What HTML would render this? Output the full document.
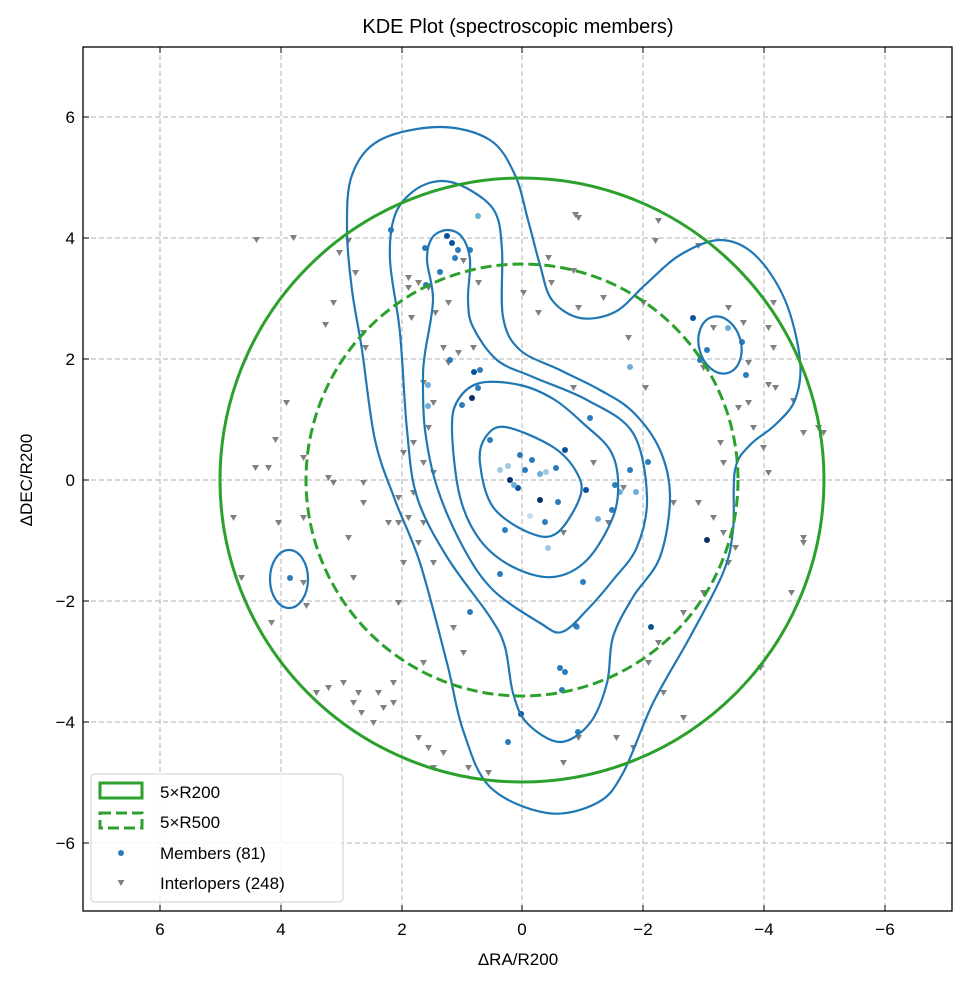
<!DOCTYPE html>
<html><head><meta charset="utf-8"><style>
html,body{margin:0;padding:0;background:#fff;}
svg{display:block;font-family:"Liberation Sans","DejaVu Sans",sans-serif;}
</style></head><body>
<svg id="s" width="969" height="984" viewBox="0 0 969 984" xmlns="http://www.w3.org/2000/svg">
<rect width="969" height="984" fill="#fff"/>
<text x="518" y="33" font-size="20" text-anchor="middle" fill="#000">KDE Plot (spectroscopic members)</text>
<g stroke="#b0b0b0" stroke-width="1" stroke-dasharray="5,3">
<line x1="160" y1="47" x2="160" y2="911"/><line x1="281" y1="47" x2="281" y2="911"/><line x1="402" y1="47" x2="402" y2="911"/><line x1="522" y1="47" x2="522" y2="911"/><line x1="643" y1="47" x2="643" y2="911"/><line x1="764" y1="47" x2="764" y2="911"/><line x1="885" y1="47" x2="885" y2="911"/>
<line x1="83" y1="117" x2="952" y2="117"/><line x1="83" y1="238" x2="952" y2="238"/><line x1="83" y1="359" x2="952" y2="359"/><line x1="83" y1="480" x2="952" y2="480"/><line x1="83" y1="601" x2="952" y2="601"/><line x1="83" y1="722" x2="952" y2="722"/><line x1="83" y1="843" x2="952" y2="843"/>
</g>
<path fill="#808080" d="M253,237h7l-3.5,6z M290,235h7l-3.5,6z M336,250h7l-3.5,6z M352,270h7l-3.5,6z M345,238h7l-3.5,6z M330,300h7l-3.5,6z M322,322h7l-3.5,6z M360,330h7l-3.5,6z M362,345h7l-3.5,6z M405,275h7l-3.5,6z M415,280h7l-3.5,6z M425,285h7l-3.5,6z M432,310h7l-3.5,6z M408,315h7l-3.5,6z M440,345h7l-3.5,6z M445,360h7l-3.5,6z M455,350h7l-3.5,6z M420,380h7l-3.5,6z M430,400h7l-3.5,6z M425,425h7l-3.5,6z M400,450h7l-3.5,6z M420,460h7l-3.5,6z M430,470h7l-3.5,6z M410,490h7l-3.5,6z M395,495h7l-3.5,6z M405,515h7l-3.5,6z M420,520h7l-3.5,6z M415,540h7l-3.5,6z M400,560h7l-3.5,6z M430,560h7l-3.5,6z M385,520h7l-3.5,6z M360,500h7l-3.5,6z M345,535h7l-3.5,6z M350,575h7l-3.5,6z M330,480h7l-3.5,6z M300,455h7l-3.5,6z M272,437h7l-3.5,6z M252,465h7l-3.5,6z M265,465h7l-3.5,6z M275,520h7l-3.5,6z M300,515h7l-3.5,6z M300,580h7l-3.5,6z M325,475h7l-3.5,6z M360,480h7l-3.5,6z M238,575h7l-3.5,6z M268,620h7l-3.5,6z M303,603h7l-3.5,6z M325,685h7l-3.5,6z M340,680h7l-3.5,6z M355,690h7l-3.5,6z M358,710h7l-3.5,6z M375,690h7l-3.5,6z M390,680h7l-3.5,6z M370,720h7l-3.5,6z M390,700h7l-3.5,6z M415,735h7l-3.5,6z M425,745h7l-3.5,6z M440,750h7l-3.5,6z M430,765h7l-3.5,6z M465,765h7l-3.5,6z M485,770h7l-3.5,6z M420,660h7l-3.5,6z M283,400h7l-3.5,6z M230,515h7l-3.5,6z M545,255h7l-3.5,6z M548,280h7l-3.5,6z M570,268h7l-3.5,6z M575,305h7l-3.5,6z M600,295h7l-3.5,6z M570,385h7l-3.5,6z M535,310h7l-3.5,6z M520,290h7l-3.5,6z M475,280h7l-3.5,6z M575,215h7l-3.5,6z M655,218h7l-3.5,6z M695,243h7l-3.5,6z M710,325h7l-3.5,6z M725,305h7l-3.5,6z M740,320h7l-3.5,6z M765,325h7l-3.5,6z M770,345h7l-3.5,6z M745,360h7l-3.5,6z M765,382h7l-3.5,6z M772,385h7l-3.5,6z M790,398h7l-3.5,6z M745,400h7l-3.5,6z M750,425h7l-3.5,6z M717,440h7l-3.5,6z M760,445h7l-3.5,6z M765,470h7l-3.5,6z M800,430h7l-3.5,6z M820,430h7l-3.5,6z M720,460h7l-3.5,6z M695,500h7l-3.5,6z M670,500h7l-3.5,6z M710,515h7l-3.5,6z M720,530h7l-3.5,6z M732,545h7l-3.5,6z M725,560h7l-3.5,6z M700,590h7l-3.5,6z M680,610h7l-3.5,6z M655,640h7l-3.5,6z M645,660h7l-3.5,6z M660,690h7l-3.5,6z M680,715h7l-3.5,6z M630,745h7l-3.5,6z M613,735h7l-3.5,6z M575,735h7l-3.5,6z M560,760h7l-3.5,6z M620,485h7l-3.5,6z M590,460h7l-3.5,6z M605,520h7l-3.5,6z M560,530h7l-3.5,6z M642,385h7l-3.5,6z M625,335h7l-3.5,6z M800,535h7l-3.5,6z M800,540h7l-3.5,6z M788,590h7l-3.5,6z M757,665h7l-3.5,6z M470,345h7l-3.5,6z M445,300h7l-3.5,6z M405,285h7l-3.5,6z M460,258h7l-3.5,6z M640,300h7l-3.5,6z M700,365h7l-3.5,6z M735,405h7l-3.5,6z M395,600h7l-3.5,6z M450,625h7l-3.5,6z M460,650h7l-3.5,6z M572,212h7l-3.5,6z M652,238h7l-3.5,6z M770,300h7l-3.5,6z M815,425h7l-3.5,6z M313,690h7l-3.5,6z M350,700h7l-3.5,6z M380,705h7l-3.5,6z M395,520h7l-3.5,6z M410,440h7l-3.5,6z"/>
<g fill="#2b7bba">
<circle cx="391" cy="230" r="3"/><circle cx="425" cy="248" r="3"/><circle cx="447" cy="236" r="3" fill="#08519c"/><circle cx="452" cy="243" r="3" fill="#08519c"/><circle cx="458" cy="250" r="3"/><circle cx="470" cy="250" r="3"/><circle cx="455" cy="258" r="3"/><circle cx="478" cy="216" r="3" fill="#6baed6"/><circle cx="440" cy="272" r="3"/><circle cx="426" cy="285" r="3"/><circle cx="450" cy="360" r="3"/><circle cx="428" cy="385" r="3" fill="#6baed6"/><circle cx="428" cy="406" r="3" fill="#6baed6"/><circle cx="462" cy="405" r="3"/><circle cx="472" cy="398" r="3" fill="#08306b"/><circle cx="478" cy="388" r="3"/><circle cx="474" cy="372" r="3" fill="#08519c"/><circle cx="480" cy="370" r="3"/><circle cx="490" cy="440" r="3"/><circle cx="500" cy="470" r="3" fill="#9ecae1"/><circle cx="510" cy="480" r="3" fill="#08306b"/><circle cx="518" cy="488" r="3" fill="#08519c"/><circle cx="508" cy="466" r="3" fill="#9ecae1"/><circle cx="525" cy="470" r="3"/><circle cx="532" cy="460" r="3"/><circle cx="540" cy="474" r="3" fill="#6baed6"/><circle cx="546" cy="472" r="3" fill="#9ecae1"/><circle cx="556" cy="468" r="3"/><circle cx="565" cy="450" r="3" fill="#08519c"/><circle cx="540" cy="500" r="3" fill="#08306b"/><circle cx="548" cy="548" r="3" fill="#9ecae1"/><circle cx="545" cy="522" r="3"/><circle cx="558" cy="502" r="3"/><circle cx="530" cy="516" r="3" fill="#c6dbef"/><circle cx="514" cy="485" r="3" fill="#6baed6"/><circle cx="520" cy="455" r="3"/><circle cx="505" cy="530" r="3"/><circle cx="590" cy="418" r="3"/><circle cx="586" cy="490" r="3" fill="#08519c"/><circle cx="598" cy="519" r="3" fill="#6baed6"/><circle cx="615" cy="485" r="3"/><circle cx="620" cy="492" r="3" fill="#6baed6"/><circle cx="612" cy="510" r="3"/><circle cx="630" cy="470" r="3"/><circle cx="636" cy="492" r="3" fill="#6baed6"/><circle cx="630" cy="367" r="3" fill="#6baed6"/><circle cx="583" cy="582" r="3"/><circle cx="577" cy="627" r="3" fill="#6baed6"/><circle cx="560" cy="668" r="3"/><circle cx="565" cy="672" r="3"/><circle cx="562" cy="690" r="3"/><circle cx="521" cy="714" r="3" fill="#08519c"/><circle cx="508" cy="742" r="3"/><circle cx="578" cy="732" r="3"/><circle cx="470" cy="612" r="3"/><circle cx="500" cy="574" r="3"/><circle cx="290" cy="578" r="3"/><circle cx="693" cy="318" r="3" fill="#08519c"/><circle cx="700" cy="360" r="3"/><circle cx="707" cy="350" r="3"/><circle cx="728" cy="328" r="3" fill="#6baed6"/><circle cx="742" cy="342" r="3"/><circle cx="746" cy="375" r="3"/><circle cx="707" cy="540" r="3" fill="#08306b"/><circle cx="651" cy="627" r="3" fill="#08519c"/><circle cx="648" cy="462" r="3"/><circle cx="576" cy="626" r="3"/>
</g>
<g id="cont" fill="none" stroke="#1f77b4" stroke-width="2.2" stroke-linejoin="round">
<ellipse cx="289" cy="579" rx="19" ry="29"/>
<ellipse cx="720" cy="345" rx="21" ry="29" transform="rotate(-15 720 345)"/>
</g>
<circle cx="522" cy="480" r="302" fill="none" stroke="#2ca02c" stroke-width="3"/>
<circle cx="522" cy="480" r="216" fill="none" stroke="#2ca02c" stroke-width="3" stroke-dasharray="11,5"/>
<rect x="83" y="47" width="869" height="864" fill="none" stroke="#000" stroke-width="1.3"/>
<g stroke="#000" stroke-width="1">
<line x1="160" y1="911" x2="160" y2="905"/><line x1="281" y1="911" x2="281" y2="905"/><line x1="402" y1="911" x2="402" y2="905"/><line x1="522" y1="911" x2="522" y2="905"/><line x1="643" y1="911" x2="643" y2="905"/><line x1="764" y1="911" x2="764" y2="905"/><line x1="885" y1="911" x2="885" y2="905"/>
<line x1="160" y1="47" x2="160" y2="53"/><line x1="281" y1="47" x2="281" y2="53"/><line x1="402" y1="47" x2="402" y2="53"/><line x1="522" y1="47" x2="522" y2="53"/><line x1="643" y1="47" x2="643" y2="53"/><line x1="764" y1="47" x2="764" y2="53"/><line x1="885" y1="47" x2="885" y2="53"/>
<line x1="83" y1="117" x2="89" y2="117"/><line x1="83" y1="238" x2="89" y2="238"/><line x1="83" y1="359" x2="89" y2="359"/><line x1="83" y1="480" x2="89" y2="480"/><line x1="83" y1="601" x2="89" y2="601"/><line x1="83" y1="722" x2="89" y2="722"/><line x1="83" y1="843" x2="89" y2="843"/>
<line x1="952" y1="117" x2="946" y2="117"/><line x1="952" y1="238" x2="946" y2="238"/><line x1="952" y1="359" x2="946" y2="359"/><line x1="952" y1="480" x2="946" y2="480"/><line x1="952" y1="601" x2="946" y2="601"/><line x1="952" y1="722" x2="946" y2="722"/><line x1="952" y1="843" x2="946" y2="843"/>
</g>
<g font-size="17" fill="#000" text-anchor="middle">
<text x="160" y="935">6</text><text x="281" y="935">4</text><text x="402" y="935">2</text><text x="522" y="935">0</text><text x="643" y="935">−2</text><text x="764" y="935">−4</text><text x="885" y="935">−6</text>
</g>
<g font-size="17" fill="#000" text-anchor="end">
<text x="75" y="123">6</text><text x="75" y="244">4</text><text x="75" y="365">2</text><text x="75" y="486">0</text><text x="75" y="607">−2</text><text x="75" y="728">−4</text><text x="75" y="849">−6</text>
</g>
<text x="518" y="965" font-size="17" text-anchor="middle">ΔRA/R200</text>
<text transform="translate(32 480) rotate(-90)" font-size="17" text-anchor="middle">ΔDEC/R200</text>
<rect x="91" y="774" width="252" height="128" rx="4" fill="#fff" fill-opacity="0.85" stroke="#ccc"/>
<rect x="100" y="783" width="42" height="15" fill="none" stroke="#2ca02c" stroke-width="3"/>
<rect x="100" y="813" width="42" height="15" fill="none" stroke="#2ca02c" stroke-width="3" stroke-dasharray="11,5"/>
<circle cx="121" cy="853" r="3" fill="#2b7bba"/>
<path d="M117.5,880h7l-3.5,6z" fill="#808080"/>
<g font-size="17" fill="#000">
<text x="160" y="798">5×R200</text><text x="160" y="828">5×R500</text><text x="160" y="859">Members (81)</text><text x="160" y="889">Interlopers (248)</text>
</g>
</svg>
<script>
(function(){
var C=[
[[440,127],[490,140],[515,175],[528,220],[540,265],[552,300],[580,318],[615,312],[645,285],[680,255],[720,240],[755,255],[785,300],[800,360],[795,400],[775,425],[750,445],[735,470],[733,530],[723,573],[690,637],[653,703],[623,773],[597,803],[547,813],[490,787],[463,730],[447,663],[420,563],[395,500],[375,440],[362,350],[352,290],[347,230],[352,175],[380,140]],
[[442,181],[470,190],[495,212],[502,250],[503,317],[520,350],[560,370],[600,390],[633,412],[660,450],[670,497],[660,557],[633,597],[613,637],[607,683],[590,723],[560,742],[527,723],[513,693],[505,647],[490,617],[447,557],[417,497],[407,430],[400,333],[390,260],[395,215],[415,190]],
[[447,230],[462,237],[470,260],[468,300],[473,327],[497,360],[533,377],[587,400],[633,433],[647,497],[637,547],[613,580],[587,610],[562,632],[540,623],[493,590],[463,547],[437,487],[425,430],[423,380],[425,353],[433,300],[427,260],[432,238]],
[[480,383],[520,385],[555,400],[585,425],[610,450],[618,480],[613,517],[587,560],[553,577],[513,567],[480,540],[460,497],[452,430],[458,400]],
[[505,427],[553,447],[577,473],[580,497],[557,533],[530,533],[493,507],[480,463],[485,438]]
];
var g=document.getElementById('cont');
C.forEach(function(p){
 var n=p.length,d='M'+p[0][0]+','+p[0][1];
 for(var i=0;i<n;i++){
  var p0=p[(i-1+n)%n],p1=p[i],p2=p[(i+1)%n],p3=p[(i+2)%n];
  var c1=[p1[0]+(p2[0]-p0[0])/6,p1[1]+(p2[1]-p0[1])/6];
  var c2=[p2[0]-(p3[0]-p1[0])/6,p2[1]-(p3[1]-p1[1])/6];
  d+=' C'+c1[0].toFixed(1)+','+c1[1].toFixed(1)+' '+c2[0].toFixed(1)+','+c2[1].toFixed(1)+' '+p2[0]+','+p2[1];
 }
 var e=document.createElementNS('http://www.w3.org/2000/svg','path');
 e.setAttribute('d',d+'Z');g.appendChild(e);
});
})();
</script>
</body></html>
